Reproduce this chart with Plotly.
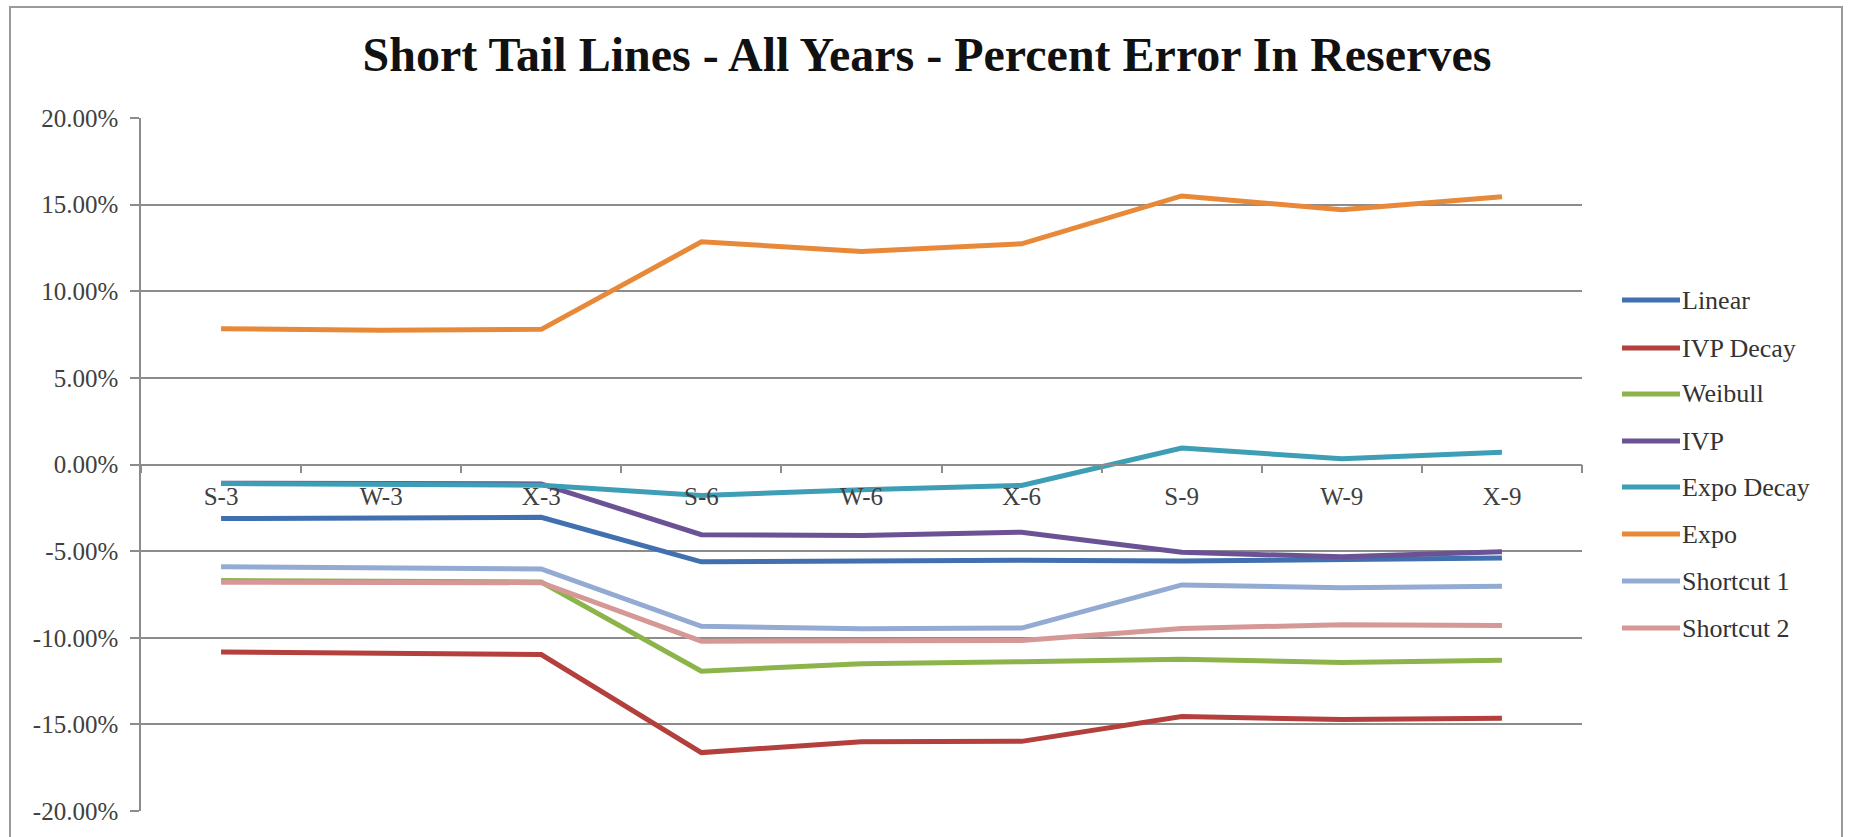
import plotly.graph_objects as go

# Category labels along the x axis
categories = ["S-3", "W-3", "X-3", "S-6", "W-6", "X-6", "S-9", "W-9", "X-9"]

# Percent error in reserves for each method
linear = [-3.12, -3.08, -3.05, -5.62, -5.57, -5.53, -5.57, -5.45, -5.40]
ivp_decay = [-10.82, -10.90, -10.97, -16.63, -16.00, -15.98, -14.55, -14.72, -14.65]
weibull = [-6.70, -6.72, -6.78, -11.93, -11.50, -11.38, -11.24, -11.43, -11.30]
ivp = [-1.08, -1.12, -1.12, -4.05, -4.10, -3.91, -5.07, -5.33, -5.03]
expo_decay = [-1.10, -1.18, -1.20, -1.79, -1.46, -1.21, 0.95, 0.33, 0.71]
expo = [7.84, 7.75, 7.80, 12.85, 12.30, 12.74, 15.50, 14.70, 15.45]
shortcut_1 = [-5.90, -5.97, -6.03, -9.34, -9.48, -9.44, -6.95, -7.12, -7.03]
shortcut_2 = [-6.80, -6.78, -6.82, -10.20, -10.16, -10.16, -9.46, -9.25, -9.30]

series_names = ["Linear", "IVP Decay", "Weibull", "IVP", "Expo Decay", "Expo",
                "Shortcut 1", "Shortcut 2"]
series_values = [linear, ivp_decay, weibull, ivp, expo_decay, expo, shortcut_1, shortcut_2]
series_colors = ["#4170B0", "#B3403D", "#8DB44A", "#6B5294", "#3D9EB5", "#E8893A",
                 "#93ABD3", "#D69896"]

# Y axis ticks
y_tick_values = [-20, -15, -10, -5, 0, 5, 10, 15, 20]
y_tick_labels = ["-20.00%", "-15.00%", "-10.00%", "-5.00%", "0.00%",
                 "5.00%", "10.00%", "15.00%", "20.00%"]

W, H = 1849, 837
PL, PR, PT, PB = 141, 1582, 118, 811  # plot area in pixels
FONT = "Liberation Serif"
GRID = "#8C8C8C"


def px_x(p):
    return (p - PL) / (PR - PL)


def px_y(p):
    return (PB - p) / (PB - PT)


fig = go.Figure()
for name, vals, col in zip(series_names, series_values, series_colors):
    fig.add_trace(go.Scatter(
        x=categories, y=vals, name=name, mode="lines",
        line=dict(color=col, width=5), showlegend=False,
    ))

# Legend drawn at the right of the plot
legend_rows = [300, 348, 394, 441, 487, 534, 581, 628]
shapes = []
annotations = []
for name, col, ry in zip(series_names, series_colors, legend_rows):
    shapes.append(dict(type="line", xref="paper", yref="paper",
                       x0=px_x(1622), x1=px_x(1680), y0=px_y(ry), y1=px_y(ry),
                       line=dict(color=col, width=5)))
    annotations.append(dict(xref="paper", yref="paper", x=px_x(1681), y=px_y(ry),
                            xanchor="left", yanchor="middle", showarrow=False,
                            borderpad=0,
                            text=name, font=dict(family=FONT, size=26, color="#333333")))

# Chart frame
shapes.append(dict(type="rect", xref="paper", yref="paper",
                   x0=px_x(10), x1=px_x(1842), y0=px_y(860), y1=px_y(7),
                   line=dict(color="#9A9A9A", width=2), fillcolor="rgba(0,0,0,0)",
                   layer="below"))

fig.update_layout(
    width=W, height=H,
    margin=dict(l=PL, r=W - PR, t=PT, b=H - PB),
    paper_bgcolor="white", plot_bgcolor="white",
    title=dict(text="<b>Short Tail Lines - All Years - Percent Error In Reserves</b>",
               x=927 / W, xanchor="center", xref="container",
               y=1 - 54 / H, yanchor="middle", yref="container",
               font=dict(family=FONT, size=48, color="#111111")),
    shapes=shapes,
    annotations=annotations,
    showlegend=False,
)

fig.update_xaxes(
    type="category", categoryorder="array", categoryarray=categories,
    range=[-0.5, len(categories) - 0.5],
    anchor="free", position=0.5,
    showline=True, linecolor=GRID, linewidth=1.5,
    showgrid=False, zeroline=False,
    ticks="outside", tickson="boundaries", ticklen=8, tickcolor=GRID, tickwidth=1.5,
    ticklabelstandoff=10,
    tickfont=dict(family=FONT, size=25, color="#404040"),
)
fig.update_yaxes(
    range=[-20, 20], tickvals=y_tick_values, ticktext=y_tick_labels,
    showline=True, linecolor=GRID, linewidth=1.5,
    showgrid=True, gridcolor=GRID, gridwidth=1.5, zeroline=False,
    ticks="outside", ticklen=9, tickcolor=GRID, tickwidth=1.5,
    ticklabelstandoff=7,
    tickfont=dict(family=FONT, size=25, color="#404040"),
)

fig.write_html("out.html")
